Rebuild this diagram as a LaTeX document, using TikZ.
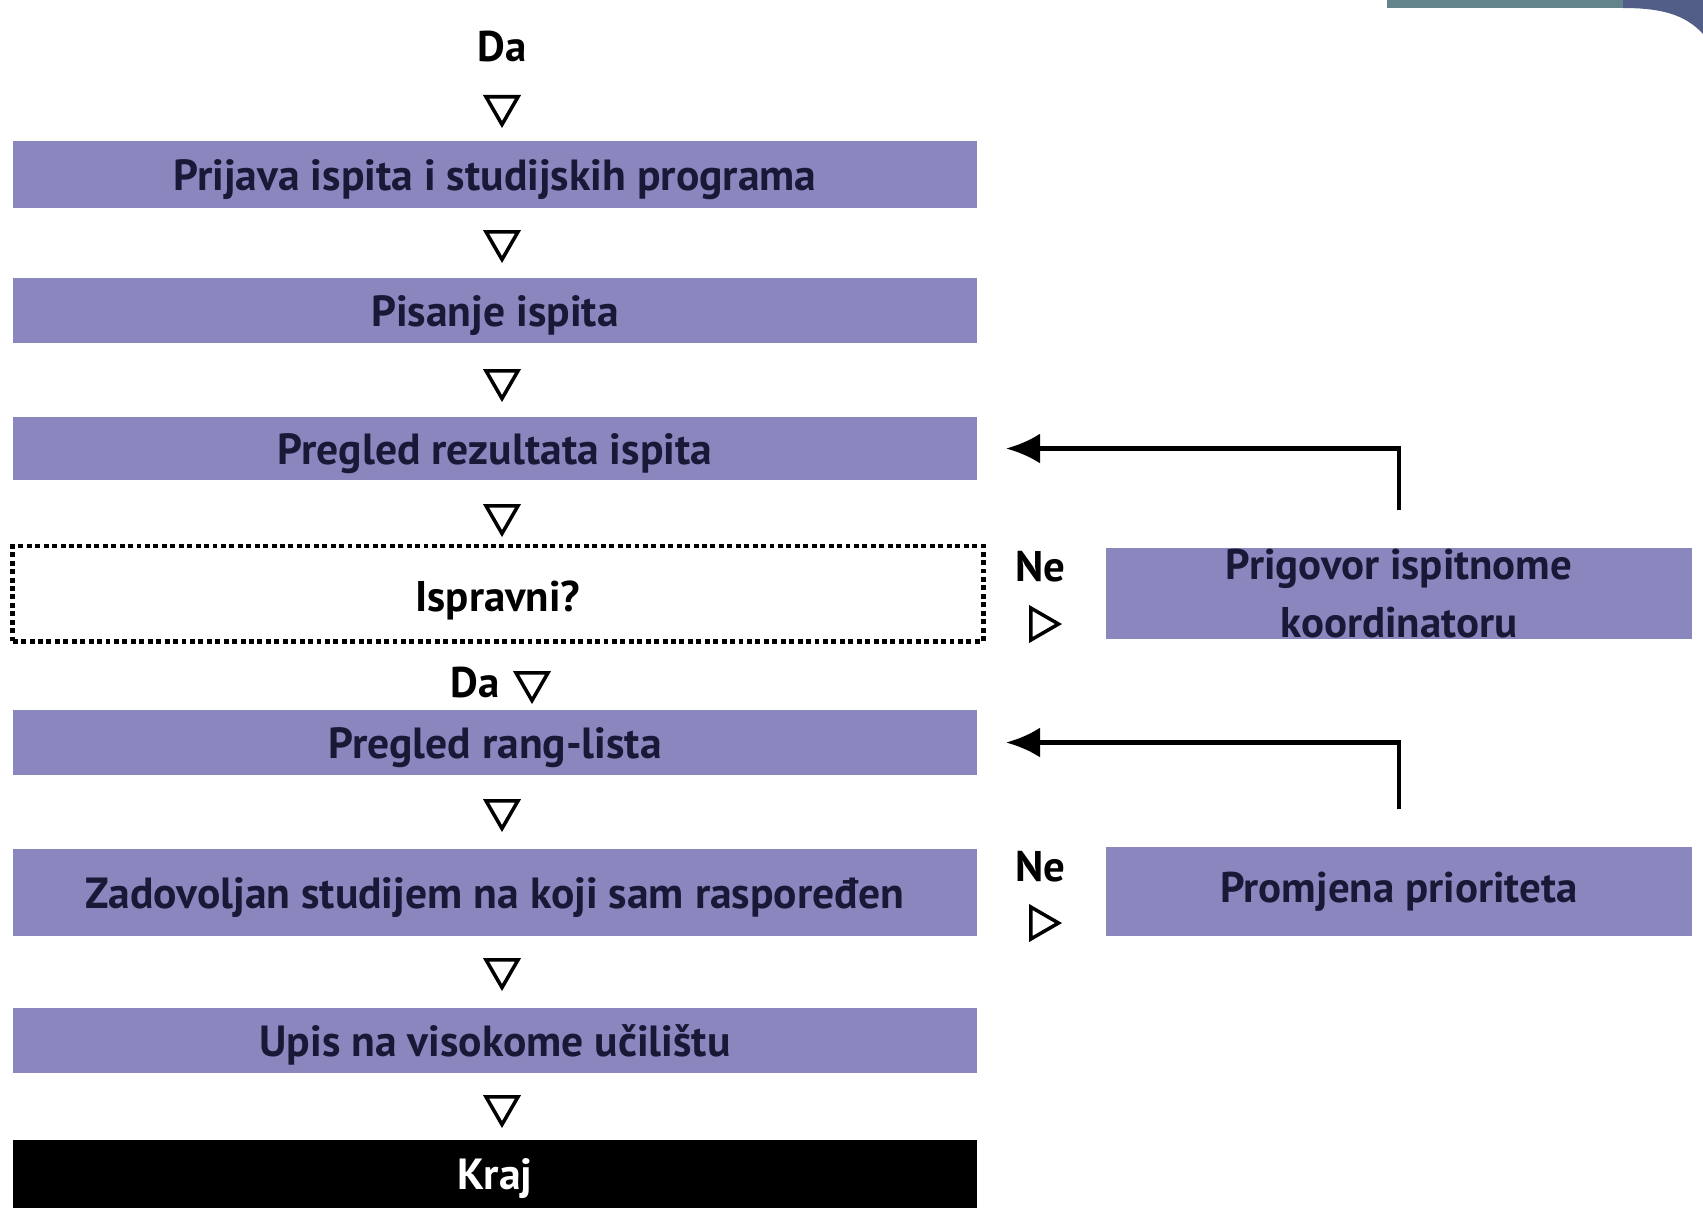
\documentclass[tikz,border=0pt]{standalone}
\usepackage{fontspec}
\setmainfont{PT Sans}
\usetikzlibrary{shapes.geometric,arrows.meta}
\definecolor{boxblue}{RGB}{137,135,190}
\definecolor{boxtext}{RGB}{25,25,55}
\definecolor{cornerteal}{RGB}{98,132,138}
\definecolor{cornerblue}{RGB}{82,94,136}

\begin{document}
\begin{tikzpicture}[x=0.01cm,y=-0.01cm,
    stepbox/.style={fill=boxblue,text=boxtext,minimum width=9.64cm,inner sep=0pt,
      text height=0.9em,text depth=0pt,font=\fontsize{12.4}{14}\selectfont\bfseries},
    sidebox/.style={fill=boxblue,text=boxtext,minimum width=5.86cm,inner sep=0pt,
      align=center,font=\fontsize{12.2}{16.5}\selectfont\bfseries},
    checkbox/.style={draw,densely dotted,line width=1.4pt,minimum width=9.7cm,
      minimum height=0.95cm,inner sep=0pt,text height=1.05em,text depth=0pt,
      font=\fontsize{12.2}{14}\selectfont\bfseries},
    flowlabel/.style={inner sep=0pt,font=\fontsize{12.2}{14}\selectfont\bfseries},
    downtri/.style={draw,line width=1pt,regular polygon,regular polygon sides=3,
      shape border rotate=180,minimum size=0.37cm,inner sep=0pt},
    righttri/.style={downtri,shape border rotate=-90},
    back/.style={-{Latex[length=0.34cm,width=0.3cm]},line width=1.3pt,
      shorten <=0.37cm,shorten >=0.28cm}]

  \useasboundingbox (0,0) rectangle (1703,1211);

  % corner of the slide
  \fill[cornerteal] (1387,0) rectangle (1623,8);
  \fill[cornerblue] (1623,0) -- (1703,0) -- (1703,34)
    .. controls (1685,14) and (1660,8) .. (1623,8) -- cycle;

  % main column
  \node[flowlabel] (da0) at (502,46) {Da};
  \node[downtri] (t0) at (502,106) {};
  \node[stepbox,minimum height=0.67cm] (prijava) at (495,174.5) {Prijava ispita i studijskih programa};
  \node[downtri] (t1) at (502,241) {};
  \node[stepbox,minimum height=0.65cm] (pisanje) at (495,310.5) {Pisanje ispita};
  \node[downtri] (t2) at (502,380) {};
  \node[stepbox,minimum height=0.63cm] (rezultati) at (495,448.5) {Pregled rezultata ispita};
  \node[downtri] (t3) at (502,515) {};
  \node[checkbox] (ispravni) at (498,593.5) {Ispravni?};
  \node[flowlabel] (da1) at (475,682) {Da};
  \node[downtri] (t4) at (532,682) {};
  \node[stepbox,minimum height=0.65cm] (rang) at (495,742.5) {Pregled rang-lista};
  \node[downtri] (t5) at (502,810) {};
  \node[stepbox,minimum height=0.87cm] (zadovoljan) at (495,892.5) {Zadovoljan studijem na koji sam raspoređen};
  \node[downtri] (t6) at (502,969) {};
  \node[stepbox,minimum height=0.65cm] (upis) at (495,1040.5) {Upis na visokome učilištu};
  \node[downtri] (t7) at (502,1106) {};
  \node[stepbox,fill=black,text=white,minimum height=0.68cm] (kraj) at (495,1174) {Kraj};

  % side branches
  \node[flowlabel] (ne1) at (1040,567) {Ne};
  \node[righttri] (r1) at (1040,624) {};
  \node[sidebox,minimum height=0.91cm] (prigovor) at (1399,593.5) {Prigovor ispitnome\\koordinatoru};
  \node[flowlabel] (ne2) at (1040,867) {Ne};
  \node[righttri] (r2) at (1040,923) {};
  \node[sidebox,minimum height=0.89cm] (promjena) at (1399,891.5) {Promjena prioriteta};

  % back arrows
  \draw[back] (prigovor.north) |- (rezultati.east);
  \draw[back] (promjena.north) |- (rang.east);

\end{tikzpicture}
\end{document}
